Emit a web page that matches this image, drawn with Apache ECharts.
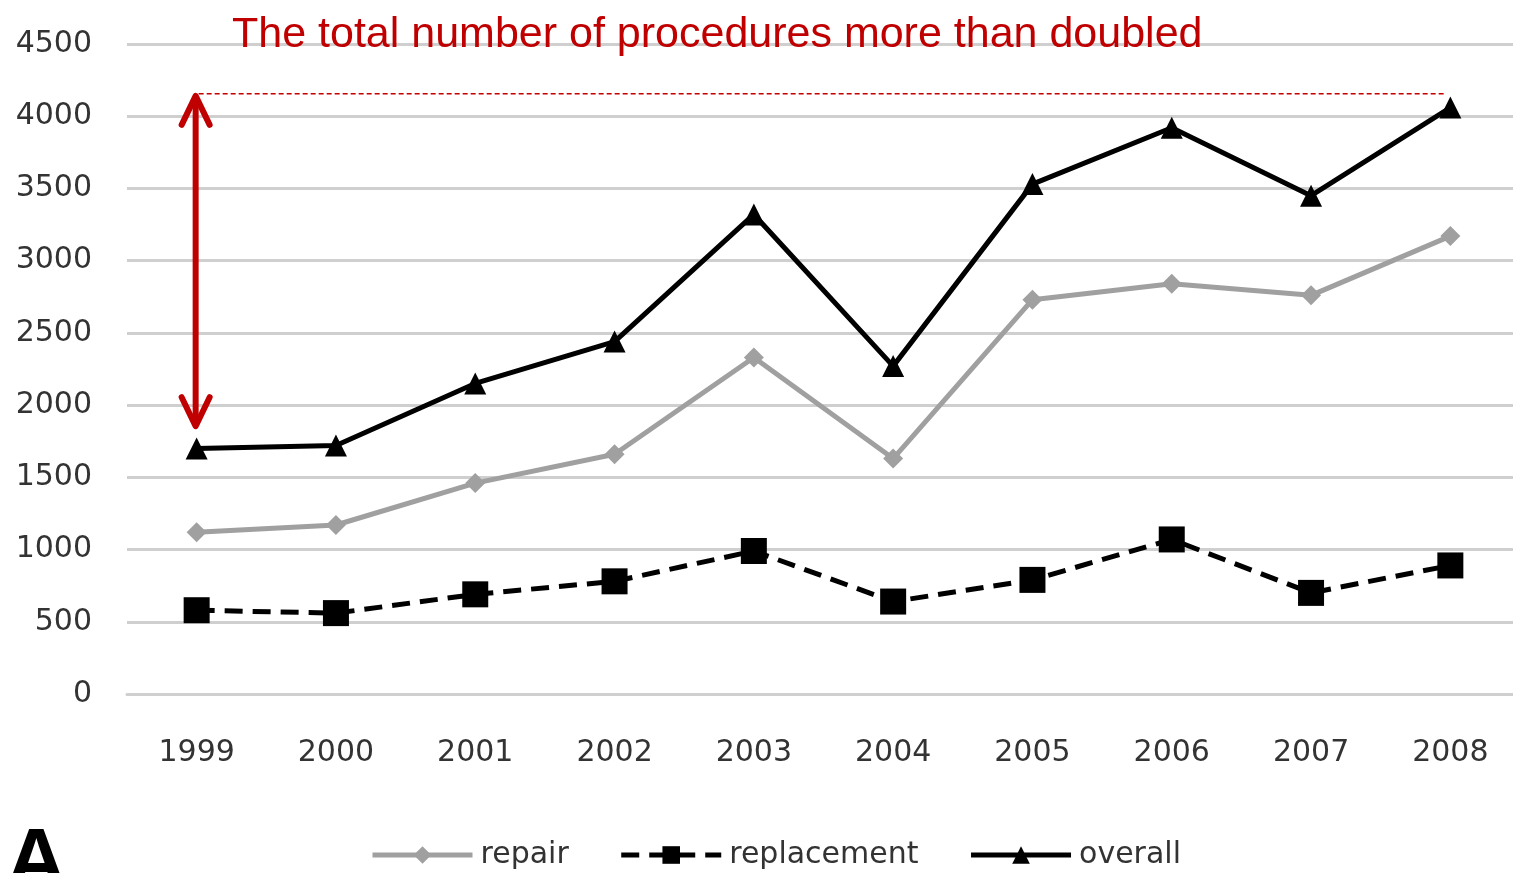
<!DOCTYPE html>
<html>
<head>
<meta charset="utf-8">
<script src="https://cdn.jsdelivr.net/npm/echarts@6/dist/echarts.min.js"></script>
<style>
  html, body { margin: 0; padding: 0; background: #ffffff; }
  #chart { width: 1513px; height: 873px; }
</style>
</head>
<body>
<div id="chart"></div>
<script>
// Heart valve procedures per year
const years       = ['1999', '2000', '2001', '2002', '2003', '2004', '2005', '2006', '2007', '2008'];
const repair      = [1120, 1170, 1460, 1660, 2330, 1630, 2730, 2840, 2760, 3170];
const replacement = [ 580,  560,  690,  780,  990,  640,  790, 1070,  700,  890];
const overall     = [1700, 1720, 2150, 2440, 3320, 2270, 3530, 3920, 3450, 4060];

const seriesNames = ['repair', 'replacement', 'overall'];
const headline    = 'The total number of procedures more than doubled';
const panelLetter = 'A';

// Span of the doubling bracket (value units)
const bracketTop    = 4155;
const bracketBottom = 1840;

const RED = '#c00000';
const labelFont = '"DejaVu Sans", Verdana, sans-serif';

const chart = echarts.init(document.getElementById('chart'), null, { renderer: 'canvas' });

chart.setOption({
  backgroundColor: '#ffffff',
  animation: false,
  grid: {
    left: 127, width: 1393, top: 44, bottom: 179,
    containLabel: false,
    outerBoundsMode: 'none'
  },
  legend: {
    data: seriesNames,
    left: 370,
    top: 840,
    padding: 0,
    itemWidth: 100,
    itemHeight: 22,
    itemGap: 50,
    lineStyle: { width: 5 },
    textStyle: { fontSize: 30, color: '#333333', fontFamily: labelFont, padding: [0, 0, 0, 3] }
  },
  xAxis: {
    type: 'category',
    data: years,
    boundaryGap: true,
    axisLine: { show: true, lineStyle: { color: '#cfcfcf', width: 3 } },
    axisTick: { show: false },
    axisLabel: { fontSize: 30, color: '#333333', fontFamily: labelFont, margin: 44 }
  },
  yAxis: {
    type: 'value',
    min: 0,
    max: 4500,
    interval: 500,
    axisLine: { show: false },
    axisTick: { show: false },
    splitLine: { lineStyle: { color: '#cfcfcf', width: 3 } },
    axisLabel: {
      fontSize: 30, color: '#333333', fontFamily: labelFont, margin: 35,
      formatter: (v) => String(v)
    }
  },
  series: [
    {
      name: 'repair',
      type: 'line',
      data: repair,
      color: '#a0a0a0',
      symbol: 'diamond',
      symbolSize: 20,
      lineStyle: { width: 5, color: '#a0a0a0' },
      itemStyle: { color: '#a0a0a0' },
      z: 2
    },
    {
      name: 'replacement',
      type: 'line',
      data: replacement,
      color: '#000000',
      symbol: 'rect',
      symbolSize: 26,
      lineStyle: { width: 5, color: '#000000', type: [18, 10] },
      itemStyle: { color: '#000000' },
      z: 3
    },
    {
      name: 'overall',
      type: 'line',
      data: overall,
      color: '#000000',
      symbol: 'triangle',
      symbolSize: 22,
      lineStyle: { width: 5, color: '#000000' },
      itemStyle: { color: '#000000' },
      z: 4
    }
  ]
});

// Annotation: dashed level line, double-headed bracket arrow and headline
function drawAnnotations() {
  const toPx = (i, v) => chart.convertToPixel({ xAxisIndex: 0, yAxisIndex: 0 }, [i, v]);
  const topLeft  = toPx(0, bracketTop);
  const topRight = toPx(years.length - 1, bracketTop);
  const bottom   = toPx(0, bracketBottom);
  const ax = topLeft[0] - 1;
  const headW = 14, headH = 31;
  const arrowStyle = { stroke: RED, lineWidth: 6, lineCap: 'round', lineJoin: 'round', fill: null };

  chart.setOption({
    graphic: [
      {
        type: 'line', z: 10,
        shape: { x1: topLeft[0] + 2, y1: topLeft[1], x2: topRight[0] - 4, y2: topRight[1] },
        style: { stroke: RED, lineWidth: 1.5, lineDash: [5, 3] }
      },
      {
        type: 'line', z: 10,
        shape: { x1: ax, y1: topLeft[1] + 4, x2: ax, y2: bottom[1] - 4 },
        style: arrowStyle
      },
      {
        type: 'polyline', z: 10,
        shape: { points: [[ax - headW, topLeft[1] + headH], [ax, topLeft[1] + 2], [ax + headW, topLeft[1] + headH]] },
        style: arrowStyle
      },
      {
        type: 'polyline', z: 10,
        shape: { points: [[ax - headW, bottom[1] - headH], [ax, bottom[1] - 2], [ax + headW, bottom[1] - headH]] },
        style: arrowStyle
      },
      {
        type: 'text', z: 10,
        left: 232, top: 14,
        style: { text: headline, fill: RED, font: '43px "Liberation Sans", Arial, sans-serif' }
      },
      {
        type: 'text', z: 10,
        left: 6, top: 822,
        style: { text: panelLetter, fill: '#000000', font: 'bold 84px "Liberation Sans", Arial, sans-serif' }
      }
    ]
  });
}
drawAnnotations();
</script>
</body>
</html>
